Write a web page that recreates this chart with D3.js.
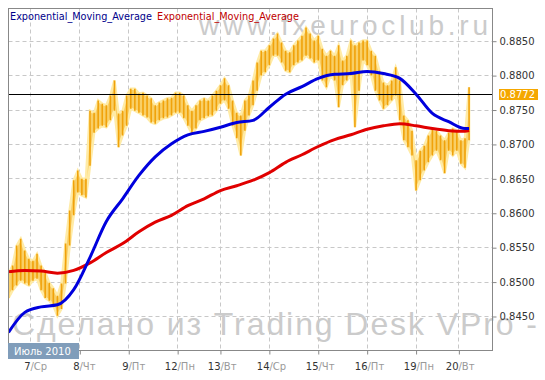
<!DOCTYPE html>
<html>
<head>
<meta charset="utf-8">
<script src="https://cdnjs.cloudflare.com/ajax/libs/d3/7.8.5/d3.min.js"></script>
<style>
body { margin: 0; background: #fff; }
svg { display: block; }
</style>
</head>
<body>
<svg id="chart" width="545" height="380"></svg>
<script>
// hourly bars, every second bar kept (high / low)
var highs = [0.8512,0.8524,0.8553,0.8563,0.8546,0.8534,0.8531,0.8541,0.8524,0.8514,
    0.8499,0.8491,0.8480,0.8498,0.8556,0.8604,0.8648,0.8662,0.8650,0.8650,
    0.8749,0.8746,0.8764,0.8759,0.8757,0.8771,0.8793,0.8745,0.8749,0.8771,
    0.8781,0.8781,0.8774,0.8775,0.8771,0.8767,0.8757,0.8761,0.8764,0.8767,
    0.8768,0.8775,0.8775,0.8771,0.8757,0.8749,0.8757,0.8764,0.8767,0.8764,
    0.8771,0.8778,0.8786,0.8796,0.8786,0.8764,0.8746,0.8742,0.8764,0.8771,
    0.8793,0.8819,0.8836,0.8836,0.8844,0.8854,0.8861,0.8848,0.8836,0.8834,
    0.8844,0.8851,0.8858,0.8870,0.8861,0.8851,0.8858,0.8839,0.8829,0.8836,
    0.8829,0.8844,0.8822,0.8829,0.8851,0.8844,0.8848,0.8851,0.8851,0.8836,
    0.8829,0.8807,0.8790,0.8786,0.8793,0.8812,0.8793,0.8742,0.8735,0.8720,
    0.8677,0.8691,0.8698,0.8713,0.8723,0.8720,0.8713,0.8706,0.8717,0.8723,
    0.8720,0.8706,0.8709,0.8783];
var lows = [0.8477,0.8488,0.8495,0.8502,0.8498,0.8495,0.8502,0.8505,0.8488,0.8477,
    0.8473,0.8466,0.8451,0.8461,0.8498,0.8553,0.8597,0.8630,0.8626,0.8623,
    0.8669,0.8717,0.8723,0.8727,0.8725,0.8735,0.8749,0.8696,0.8713,0.8727,
    0.8752,0.8749,0.8746,0.8742,0.8739,0.8732,0.8730,0.8735,0.8738,0.8739,
    0.8742,0.8746,0.8746,0.8738,0.8727,0.8716,0.8723,0.8735,0.8738,0.8741,
    0.8742,0.8749,0.8759,0.8764,0.8752,0.8727,0.8709,0.8684,0.8720,0.8742,
    0.8757,0.8778,0.8800,0.8805,0.8815,0.8829,0.8829,0.8819,0.8807,0.8805,
    0.8815,0.8819,0.8822,0.8829,0.8825,0.8819,0.8822,0.8793,0.8783,0.8800,
    0.8793,0.8754,0.8786,0.8793,0.8800,0.8725,0.8778,0.8822,0.8815,0.8800,
    0.8778,0.8764,0.8752,0.8757,0.8764,0.8771,0.8735,0.8706,0.8696,0.8684,
    0.8633,0.8648,0.8662,0.8674,0.8684,0.8691,0.8677,0.8658,0.8691,0.8684,
    0.8691,0.8672,0.8666,0.8706];

// moving averages, read every 8 hours
var emaIdx = [0,8,16,24,32,40,48,56,64,72,80,88,96,104,112,120,128,136,144,152,
    160,168,176,184,192,200,208,216,224,226];
var emaFast = [0.8427,0.8456,0.8464,0.8467,0.8489,0.8536,0.8588,0.8621,0.8655,0.8682,
    0.8701,0.8714,0.8719,0.8725,0.8732,0.8735,0.8754,0.8773,0.8784,0.8796,
    0.8802,0.8803,0.8806,0.8803,0.8796,0.8773,0.8745,0.8733,0.8723,0.8723];
var emaSlow = [0.8515,0.8517,0.8516,0.8513,0.8517,0.8528,0.8543,0.8556,0.8573,0.8587,
    0.8597,0.8611,0.8621,0.8633,0.8640,0.8648,0.8659,0.8674,0.8685,0.8697,
    0.8707,0.8714,0.8722,0.8727,0.8730,0.8727,0.8723,0.8720,0.8719,0.8720];

var dayIdx = [11, 35, 59, 83, 104, 128, 152, 176, 200, 221];
var dayNums = ["7", "8", "9", "12", "13", "14", "15", "16", "19", "20"];
var dayNames = ["Ср", "Чт", "Пт", "Пн", "Вт", "Ср", "Чт", "Пт", "Пн", "Вт"];
var priceTicks = [0.8450, 0.8500, 0.8550, 0.8600, 0.8650, 0.8700, 0.8750, 0.8800, 0.8850];
var lastPrice = 0.8772;
var monthLabel = "Июль 2010";
var legendNames = ["Exponential_Moving_Average", "Exponential_Moving_Average"];
var legendColors = ["#00008b", "#c00000"];

var svg = d3.select("#chart"),
    margin = {top: 8, right: 53, bottom: 30, left: 8},
    width = 545 - margin.left - margin.right,
    height = 380 - margin.top - margin.bottom;

var x = d3.scaleLinear().domain([0, 237.5]).range([0, width]),
    y = d3.scaleLinear().domain([0.84006, 0.88975]).range([height, 0]);

svg.append("rect")
    .attr("width", 545)
    .attr("height", 380)
    .attr("fill", "#fff");

// watermarks
svg.append("text")
    .attr("x", 199)
    .attr("y", 35)
    .attr("font-family", "'Liberation Sans', Arial, sans-serif")
    .attr("font-size", 28)
    .attr("textLength", 289)
    .attr("lengthAdjust", "spacing")
    .attr("fill", "#cbcbcb")
    .text("www.fxeuroclub.ru");

svg.append("text")
    .attr("x", 12)
    .attr("y", 335)
    .attr("font-family", "'Liberation Sans', Arial, sans-serif")
    .attr("font-size", 32)
    .attr("textLength", 525)
    .attr("lengthAdjust", "spacing")
    .attr("fill", "#cbcbcb")
    .text("Сделано из Trading Desk VPro -");

var g = svg.append("g")
    .attr("transform", "translate(" + (margin.left + 0.5) + "," + (margin.top + 0.5) + ")");

// grid
g.selectAll(".hgrid")
    .data(priceTicks)
    .enter()
    .append("line")
    .attr("class", "hgrid")
    .attr("x1", 0)
    .attr("x2", width)
    .attr("y1", function (d) { return Math.round(y(d)); })
    .attr("y2", function (d) { return Math.round(y(d)); })
    .attr("stroke", "#c8c8c8")
    .attr("stroke-dasharray", "4,3");

g.selectAll(".vgrid")
    .data(dayIdx)
    .enter()
    .append("line")
    .attr("class", "vgrid")
    .attr("x1", function (d) { return Math.round(x(d)); })
    .attr("x2", function (d) { return Math.round(x(d)); })
    .attr("y1", 0)
    .attr("y2", height)
    .attr("stroke", "#c8c8c8")
    .attr("stroke-dasharray", "4,3");

g.append("clipPath")
    .attr("id", "plot-clip")
    .append("rect")
    .attr("width", width)
    .attr("height", height);

var plot = g.append("g").attr("clip-path", "url(#plot-clip)");

var bars = highs.map(function (h, i) {
    return {idx: i * 2, high: h, low: lows[i]};
});

// price bars: glow band, then thin bars
var band = d3.area()
    .x(function (d) { return x(d.idx); })
    .y0(function (d) { return y(d.low); })
    .y1(function (d) { return y(d.high); });

plot.append("path")
    .datum(bars)
    .attr("d", band)
    .attr("fill", "#f9cf66")
    .attr("stroke", "#ffeba6")
    .attr("stroke-width", 2.5);

plot.selectAll(".bar")
    .data(bars)
    .enter()
    .append("line")
    .attr("class", "bar")
    .attr("x1", function (d) { return x(d.idx); })
    .attr("x2", function (d) { return x(d.idx); })
    .attr("y1", function (d) { return y(d.high); })
    .attr("y2", function (d) { return y(d.low); })
    .attr("stroke", "#f0a20a")
    .attr("stroke-width", 1.6);

// last price line
plot.append("line")
    .attr("x1", 0)
    .attr("x2", width)
    .attr("y1", Math.round(y(lastPrice)))
    .attr("y2", Math.round(y(lastPrice)))
    .attr("stroke", "#000")
    .attr("stroke-width", 1);

var line = d3.line()
    .x(function (d) { return x(d[0]); })
    .y(function (d) { return y(d[1]); })
    .curve(d3.curveMonotoneX);

plot.append("path")
    .datum(emaIdx.map(function (d, i) { return [d, emaSlow[i]]; }))
    .attr("d", line)
    .attr("fill", "none")
    .attr("stroke", "#e00000")
    .attr("stroke-width", 3);

plot.append("path")
    .datum(emaIdx.map(function (d, i) { return [d, emaFast[i]]; }))
    .attr("d", line)
    .attr("fill", "none")
    .attr("stroke", "#0000dd")
    .attr("stroke-width", 3);

// frame
g.append("rect")
    .attr("width", width)
    .attr("height", height)
    .attr("fill", "none")
    .attr("stroke", "#888");

// right axis
var yAxis = g.append("g")
    .attr("class", "axis axis--y")
    .attr("transform", "translate(" + width + ",0)")
    .call(d3.axisRight(y).tickValues(priceTicks).tickSize(4).tickFormat(d3.format(".4f")));

yAxis.select(".domain").remove();
yAxis.selectAll("line").attr("stroke", "#888");
yAxis.selectAll("text")
    .attr("fill", "#333")
    .attr("font-family", "'DejaVu Sans', Verdana, sans-serif")
    .attr("font-size", 10);

// bottom axis
var xAxis = g.append("g")
    .attr("class", "axis axis--x")
    .attr("transform", "translate(0," + height + ")")
    .call(d3.axisBottom(x).tickValues(dayIdx).tickSize(4).tickFormat(""));

xAxis.select(".domain").remove();
xAxis.selectAll("line").attr("stroke", "#888");

var dayLabels = g.selectAll(".day-label")
    .data(dayIdx)
    .enter()
    .append("g")
    .attr("class", "day-label")
    .attr("transform", function (d) { return "translate(" + Math.round(x(d)) + "," + (height + 19) + ")"; })
    .attr("font-family", "'DejaVu Sans', Verdana, sans-serif")
    .attr("font-size", 10);

dayLabels.append("text")
    .attr("text-anchor", "end")
    .attr("fill", "#333")
    .text(function (d, i) { return dayNums[i]; });

dayLabels.append("text")
    .attr("text-anchor", "start")
    .attr("fill", "#999")
    .text(function (d, i) { return "/" + dayNames[i]; });

// month tag
svg.append("rect")
    .attr("x", 8)
    .attr("y", 343)
    .attr("width", 71)
    .attr("height", 16)
    .attr("fill", "#809dba");

svg.append("text")
    .attr("x", 14)
    .attr("y", 355)
    .attr("fill", "#fff")
    .attr("font-family", "'DejaVu Sans', Verdana, sans-serif")
    .attr("font-size", 10)
    .text(monthLabel);

// last price tag
svg.append("rect")
    .attr("x", 499)
    .attr("y", Math.round(y(lastPrice)) + margin.top - 5)
    .attr("width", 39)
    .attr("height", 11)
    .attr("fill", "#f5a700");

svg.append("text")
    .attr("x", 500)
    .attr("y", Math.round(y(lastPrice)) + margin.top + 4)
    .attr("fill", "#fff")
    .attr("font-family", "'DejaVu Sans', Verdana, sans-serif")
    .attr("font-size", 10)
    .text(d3.format(".4f")(lastPrice));

// legend
var legendX = [10, 157];
svg.selectAll(".legend")
    .data(legendNames)
    .enter()
    .append("text")
    .attr("class", "legend")
    .attr("x", function (d, i) { return legendX[i]; })
    .attr("y", 20)
    .attr("fill", function (d, i) { return legendColors[i]; })
    .attr("font-family", "'DejaVu Sans', Verdana, sans-serif")
    .attr("font-size", 10)
    .attr("textLength", 142)
    .attr("lengthAdjust", "spacingAndGlyphs")
    .text(function (d) { return d; });
</script>
</body>
</html>
